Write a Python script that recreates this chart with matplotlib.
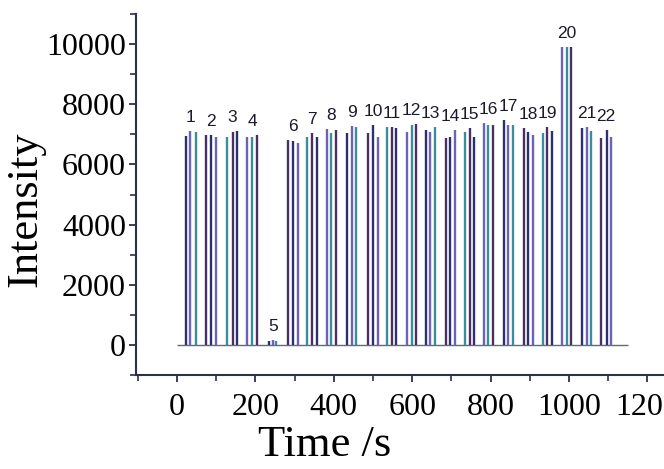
import matplotlib
matplotlib.use("Agg")
import matplotlib.pyplot as plt
from matplotlib.ticker import MultipleLocator

# injection times (s) and peak intensities, three injections per sample
peak_times = [
    [22, 33, 48], [74, 87, 99], [128, 142, 154], [179, 192, 205],
    [236, 244, 253], [284, 295, 308], [333, 345, 358], [382, 394, 406],
    [434, 447, 458], [488, 499, 512], [535, 548, 559], [586, 599, 610],
    [635, 645, 658], [686, 696, 709], [735, 747, 758], [784, 794, 805],
    [835, 845, 856], [885, 896, 907], [933, 943, 956], [983, 994, 1006],
    [1034, 1045, 1055], [1081, 1097, 1106],
]
peak_heights = [
    [6950, 7120, 7080], [6980, 6980, 6920], [6920, 7070, 7110], [6920, 6920, 6980],
    [150, 180, 150], [6800, 6790, 6700], [6900, 7040, 6920], [7170, 7030, 7150],
    [7030, 7280, 7230], [7060, 7300, 6920], [7230, 7230, 7200], [7090, 7310, 7340],
    [7140, 7090, 7230], [6870, 6920, 7140], [7090, 7200, 6920], [7390, 7310, 7310],
    [7480, 7310, 7310], [7200, 7090, 6980], [7030, 7250, 7120], [9900, 9900, 9900],
    [7200, 7230, 7120], [6870, 7140, 6900],
]
sample_labels = [str(i) for i in range(1, 23)]
baseline_span = [0, 1150]

line_colors = ["#2e2f6e", "#6c63b8", "#3c8c9c", "#4a3060"]
axis_color = "#2d3047"

fig = plt.figure(figsize=(6.64, 4.69), dpi=100)
ax = fig.add_axes([0.2045, 0.2002, 0.8295, 0.7699])

ax.hlines(0, baseline_span[0], baseline_span[1], color="#5a6a8a", lw=1.0)
k = 0
for times, heights, lab in zip(peak_times, peak_heights, sample_labels):
    for t, h in zip(times, heights):
        ax.vlines(t, 0, h, color=line_colors[k % len(line_colors)], lw=1.7)
        k += 1
    ax.text(sum(times) / len(times), max(heights) + 200, lab,
            ha="center", va="bottom", fontsize=12.5,
            family="Liberation Sans", color="#1a1a2a")

ax.set_xlim(-105, 1300)
ax.set_ylim(-1000, 11000)
ax.xaxis.set_major_locator(MultipleLocator(200))
ax.xaxis.set_minor_locator(MultipleLocator(100))
ax.yaxis.set_major_locator(MultipleLocator(2000))
ax.yaxis.set_minor_locator(MultipleLocator(1000))

for side in ("top", "right"):
    ax.spines[side].set_visible(False)
for side in ("left", "bottom"):
    ax.spines[side].set_color(axis_color)
    ax.spines[side].set_linewidth(1.5)

ax.tick_params(which="major", direction="out", length=5, width=1.3,
               color=axis_color, labelsize=23)
ax.tick_params(which="minor", direction="out", length=4, width=1.2,
               color=axis_color)
ax.tick_params(axis="x", which="major", pad=8)
ax.tick_params(axis="y", which="major", pad=2)
for lbl in ax.get_xticklabels() + ax.get_yticklabels():
    lbl.set_family("Liberation Serif")

ax.set_xlabel("Time /s", family="Liberation Serif", fontsize=32)
ax.set_ylabel("Intensity", family="Liberation Serif", fontsize=32)
ax.xaxis.set_label_coords(0.343, -0.138)
ax.yaxis.set_label_coords(-0.165, 0.46)

fig.savefig("out.png", dpi=100)
